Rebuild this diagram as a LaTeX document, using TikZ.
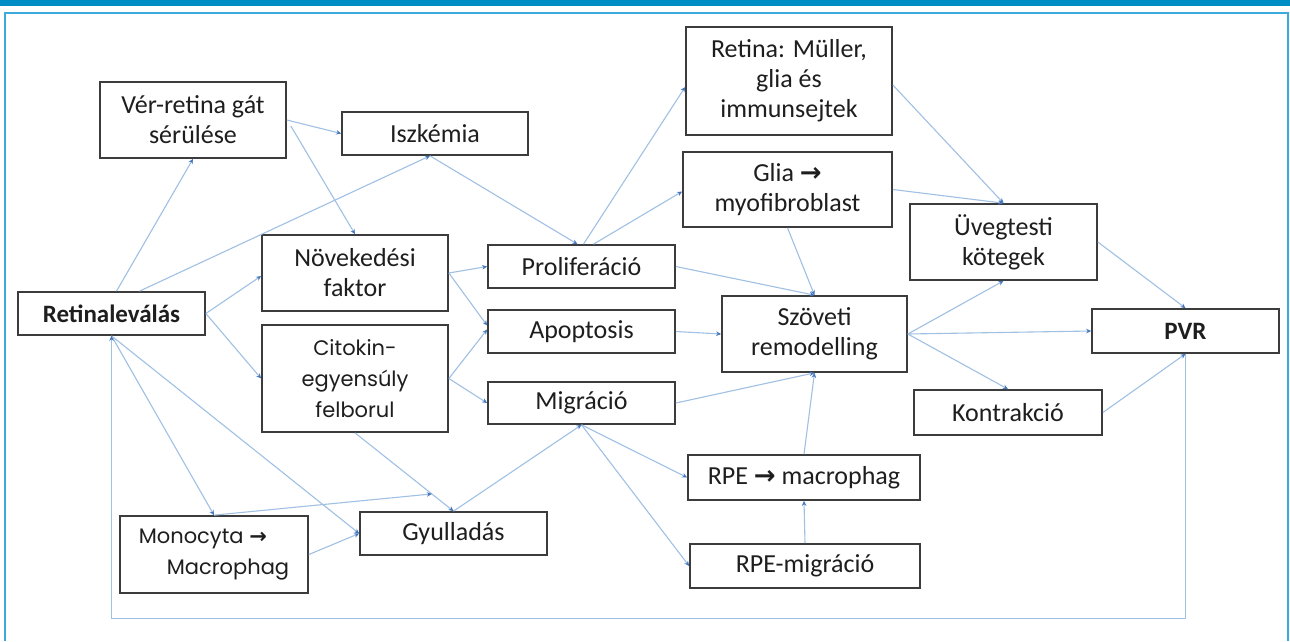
\documentclass[tikz,border=0pt]{standalone}
\usepackage{fontspec}
\setmainfont{Carlito}
\newfontfamily\gothic{Poppins}
\newfontfamily\dejavu{DejaVu Sans}
\usetikzlibrary{arrows.meta,calc}
\definecolor{bandblue}{RGB}{0,140,196}
\definecolor{frameblue}{RGB}{60,170,220}
\definecolor{linkblue}{RGB}{160,192,228}
\definecolor{tipblue}{RGB}{70,120,190}
\definecolor{boxgray}{RGB}{60,60,60}
\definecolor{txt}{RGB}{30,30,30}
\newcommand{\ar}{{\dejavu\bfseries →}}
\tikzset{
  box/.style={draw=boxgray, line width=1.7pt, fill=white, align=center, text=txt,
    font=\fontsize{26}{30}\selectfont, inner sep=0pt},
  gbox/.style={box, font=\gothic\fontsize{21}{31}\selectfont},
  link/.style={draw=linkblue, line width=1.1pt, -{Stealth[length=5pt,width=4.5pt,color=tipblue]}},
}
\begin{document}
\begin{tikzpicture}[x=1pt,y=-1pt]
\useasboundingbox (0,0) rectangle (1290,641);
\fill[white] (0,0) rectangle (1290,641);
% frame
\fill[bandblue] (0,0) rectangle (1290,6);
\draw[frameblue, line width=1.3pt] (5,641) -- (5,13) -- (1288,13) -- (1288,641);

% nodes
\node[box, minimum width=186pt, minimum height=76pt] (ver) at (193,120) {Vér-retina gát\\sérülése};
\node[box, minimum width=186pt, minimum height=43pt] (isz) at (435,133.5) {Iszkémia};
\node[box, minimum width=186pt, minimum height=76pt] (nov) at (355,273) {Növekedési\\faktor};
\node[box, minimum width=187pt, minimum height=43pt, font=\bfseries\fontsize{25}{30}\selectfont] (ret) at (111.5,313.5) {Retinaleválás};
\node[gbox, minimum width=186pt, minimum height=107pt] (cit) at (355,378.5) {Citokin-\\egyensúly\\felborul};
\node[gbox, minimum width=188pt, minimum height=77pt, align=left] (mono) at (214,554.5) {Monocyta \ar\\\hspace*{28pt}Macrophag};
\node[box, minimum width=187pt, minimum height=43pt] (gyu) at (453.5,533.5) {Gyulladás};
\node[box, minimum width=187pt, minimum height=43pt] (pro) at (581.5,266.5) {Proliferáció};
\node[box, minimum width=187pt, minimum height=43pt] (apo) at (581.5,331.5) {Apoptosis};
\node[box, minimum width=187pt, minimum height=42pt] (mig) at (581.5,403) {Migráció};
\node[box, minimum width=206pt, minimum height=108pt] (mul) at (789,81) {Retina: Müller,\\glia és\\immunsejtek};
\node[box, minimum width=209pt, minimum height=75pt] (gli) at (787.5,189.5) {Glia \ar\\myofibroblast};
\node[box, minimum width=185pt, minimum height=76pt] (szo) at (814.5,334) {Szöveti\\remodelling};
\node[box, minimum width=187pt, minimum height=76pt] (uve) at (1003.5,242) {Üvegtesti\\kötegek};
\node[box, minimum width=187pt, minimum height=44pt, font=\bfseries\fontsize{25}{30}\selectfont] (pvr) at (1185.5,331) {PVR};
\node[box, minimum width=188pt, minimum height=45pt] (kon) at (1008,412.5) {Kontrakció};
\node[box, minimum width=232pt, minimum height=45pt] (rpem) at (804,477.5) {RPE \ar{} macrophag};
\node[box, minimum width=230pt, minimum height=44pt] (rpemig) at (805,566) {RPE-migráció};

\coordinate (gyuj) at ($(cit.south)!0.78!(gyu.north)$);

% connectors
\draw[link] ($(ret.north)+(5,0)$) -- (ver.south);
\draw[link] ($(ret.north)+(28,0)$) -- ($(isz.south)+(-5,0)$);
\draw[link] (ret.east) -- ($(nov.west)+(0,3)$);
\draw[link] (ret.east) -- (cit.west);
\draw[link] (ret.south) -- (mono.north);
\draw[link] (ret.south) -- (gyu.west);
\draw[link] (pvr.south) -- ++(0,265) -| (ret.south);
\draw[link] (ver.east) -- (isz.west);
\draw[link] ($(ver.east)+(4,6)$) -- (nov.north);
\draw[link] ($(isz.south)+(-5,0)$) -- ($(pro.north)+(-4,0)$);
\draw[link] ($(pro.north)+(2,0)$) -- ($(mul.west)+(0,6)$);
\draw[link] ($(pro.north)+(12,0)$) -- ($(gli.west)+(0,2)$);
\draw[link] (pro.east) -- (szo.north);
\draw[link] (gli.south) -- (szo.north);
\draw[link] ($(mul.east)+(0,4)$) -- (uve.north);
\draw[link] (gli.east) -- (uve.north);
\draw[link] (szo.east) -- (uve.south);
\draw[link] (szo.east) -- (pvr.west);
\draw[link] (szo.east) -- (kon.north);
\draw[link] (uve.east) -- (pvr.north);
\draw[link] (kon.east) -- (pvr.south);
\draw[link] (nov.east) -- (pro.west);
\draw[link] (nov.east) -- ($(apo.west)+(0,-6)$);
\draw[link] (cit.east) -- ($(apo.west)+(0,-2)$);
\draw[link] (cit.east) -- (mig.west);
\draw[link] (apo.east) -- (szo.west);
\draw[link] (mig.east) -- (szo.south);
\draw[link] (mig.south) -- (rpem.west);
\draw[link] (mig.south) -- (rpemig.west);
\draw[link] (gyu.north) -- (mig.south);
\draw[link] (cit.south) -- (gyu.north);
\draw[link] (mono.north) -- (gyuj);
\draw[link] (mono.east) -- (gyu.west);
\draw[link] (rpemig.north) -- (rpem.south);
\draw[link] (rpem.north) -- (szo.south);
\end{tikzpicture}
\end{document}
